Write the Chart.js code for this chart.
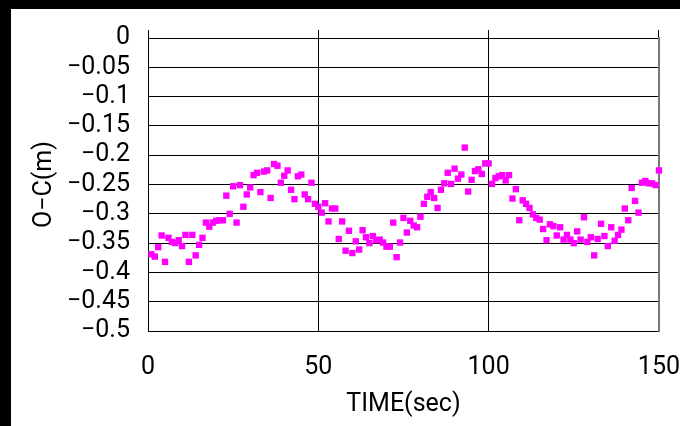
<!DOCTYPE html>
<html>
<head>
<meta charset="utf-8">
<script src="https://cdn.jsdelivr.net/npm/chart.js@4"></script>
<style>
  html, body { margin: 0; padding: 0; background: #000; width: 680px; height: 426px; overflow: hidden; }
  #wrap { position: absolute; left: 11px; top: 9px; width: 669px; height: 417px; background: #fff; }
</style>
</head>
<body>
<div id="wrap"><canvas id="oc" width="669" height="417"></canvas></div>
<script>
// time stamps (sec)
const timeSec = [
  1, 2, 3, 4, 5, 6, 7, 8, 9, 10, 11, 12, 13, 14, 15, 16, 17, 18, 19, 20,
  21, 22, 23, 24, 25, 26, 27, 28, 29, 30, 31, 32, 33, 34, 35, 36, 37, 38, 39, 40,
  41, 42, 43, 44, 45, 46, 47, 48, 49, 50, 51, 52, 53, 54, 55, 56, 57, 58, 59, 60,
  61, 62, 63, 64, 65, 66, 67, 68, 69, 70, 71, 72, 73, 74, 75, 76, 77, 78, 79, 80,
  81, 82, 83, 84, 85, 86, 87, 88, 89, 90, 91, 92, 93, 94, 95, 96, 97, 98, 99, 100,
  101, 102, 103, 104, 105, 106, 107, 108, 109, 110, 111, 112, 113, 114, 115, 116, 117, 118, 119, 120,
  121, 122, 123, 124, 125, 126, 127, 128, 129, 130, 131, 132, 133, 134, 135, 136, 137, 138, 139, 140,
  141, 142, 143, 144, 145, 146, 147, 148, 149, 150
];

// observed minus computed (m)
const ocValues = [
  -0.369, -0.373, -0.357, -0.337, -0.382, -0.341, -0.348, -0.350, -0.345, -0.355,
  -0.336, -0.382, -0.336, -0.371, -0.353, -0.341, -0.315, -0.322, -0.315, -0.312,
  -0.311, -0.311, -0.269, -0.300, -0.253, -0.315, -0.251, -0.288, -0.267, -0.255,
  -0.234, -0.230, -0.263, -0.228, -0.226, -0.273, -0.215, -0.218, -0.247, -0.235,
  -0.226, -0.259, -0.275, -0.236, -0.233, -0.267, -0.275, -0.247, -0.283, -0.288,
  -0.298, -0.282, -0.313, -0.291, -0.291, -0.343, -0.313, -0.363, -0.329, -0.367,
  -0.347, -0.361, -0.328, -0.340, -0.350, -0.338, -0.345, -0.344, -0.349, -0.356,
  -0.356, -0.315, -0.374, -0.349, -0.307, -0.332, -0.312, -0.320, -0.323, -0.305,
  -0.283, -0.271, -0.263, -0.273, -0.290, -0.259, -0.248, -0.230, -0.249, -0.223,
  -0.240, -0.233, -0.187, -0.262, -0.242, -0.227, -0.224, -0.232, -0.214, -0.214,
  -0.249, -0.239, -0.236, -0.234, -0.243, -0.234, -0.274, -0.258, -0.311, -0.277,
  -0.283, -0.290, -0.301, -0.307, -0.310, -0.326, -0.345, -0.318, -0.321, -0.337,
  -0.323, -0.344, -0.336, -0.344, -0.350, -0.330, -0.344, -0.306, -0.348, -0.340,
  -0.371, -0.343, -0.317, -0.338, -0.355, -0.323, -0.346, -0.336, -0.327, -0.291,
  -0.311, -0.256, -0.278, -0.298, -0.247, -0.244, -0.248, -0.248, -0.251, -0.226
];

const xRange = [0, 150];
const xStep = 50;
const yRange = [-0.5, 0];
const yStep = 0.05;

const FONT = { family: 'Roboto, "Noto Sans CJK JP", sans-serif', size: 25 };

// Excel style minus sign
const fmt = v => {
  const r = Math.round(v * 100) / 100;
  return r < 0 ? '\u2212' + String(-r) : String(r);
};

const points = timeSec.map((t, i) => ({ x: t, y: ocValues[i] }));

new Chart(document.getElementById('oc'), {
  type: 'scatter',
  data: {
    datasets: [{
      data: points,
      pointStyle: 'rect',
      pointRadius: 4.5,
      pointBackgroundColor: '#ff00ff',
      pointBorderWidth: 0,
      clip: false
    }]
  },
  options: {
    responsive: false,
    animation: false,
    layout: { padding: { left: 0, top: 29, right: 0, bottom: 0 } },
    plugins: { legend: { display: false }, tooltip: { enabled: false } },
    scales: {
      x: {
        type: 'linear',
        position: 'bottom',
        min: xRange[0],
        max: xRange[1],
        afterFit: s => { s.height = 95; },
        // invisible tick marks keep the labels away from the axis
        grid: { color: '#000', lineWidth: 1, drawTicks: true, tickLength: 22, tickColor: 'rgba(0,0,0,0)' },
        border: { color: '#000', width: 1 },
        ticks: { stepSize: xStep, color: '#000', font: FONT, padding: 0, maxRotation: 0, autoSkip: false },
        title: { display: true, text: 'TIME(sec)', color: '#000', font: FONT, padding: { top: 0, bottom: 6 } }
      },
      xTop: {
        type: 'linear',
        position: 'top',
        min: xRange[0],
        max: xRange[1],
        afterFit: s => { s.height = 0; },
        grid: { drawOnChartArea: false, drawTicks: true, tickLength: 8, color: '#000', lineWidth: 1 },
        border: { color: '#000', width: 1 },
        ticks: { stepSize: xStep, display: false }
      },
      y: {
        min: yRange[0],
        max: yRange[1],
        afterFit: s => { s.width = 137; },
        grid: { color: '#000', lineWidth: 1, drawTicks: true, tickLength: 18, tickColor: 'rgba(0,0,0,0)' },
        border: { color: '#000', width: 1 },
        ticks: { stepSize: yStep, color: '#000', font: FONT, padding: 0, callback: fmt, autoSkip: false },
        title: { display: true, text: 'O\u2212C(m)', color: '#000', font: FONT, padding: { top: 19, bottom: 0 } }
      },
      yRight: {
        position: 'right',
        min: yRange[0],
        max: yRange[1],
        afterFit: s => { s.width = 0; },
        grid: { drawOnChartArea: false, drawTicks: false },
        border: { color: '#777', width: 2 },
        ticks: { display: false }
      }
    }
  }
});
</script>
</body>
</html>
